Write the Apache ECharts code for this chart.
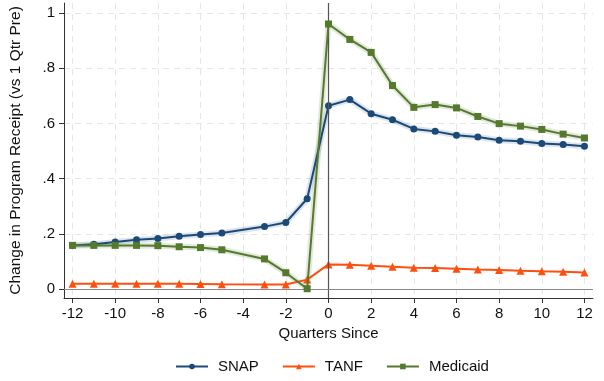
<!DOCTYPE html>
<html><head><meta charset="utf-8">
<script src="https://cdn.jsdelivr.net/npm/echarts@6/dist/echarts.min.js"></script>
<style>html,body{margin:0;padding:0;background:#fff}#c{width:604px;height:381px}</style>
</head><body><div id="c"></div>
<script>
const quarters = [-12,-11,-10,-9,-8,-7,-6,-5,-3,-2,-1,0,1,2,3,4,5,6,7,8,9,10,11,12];
const snap = [0.158,0.162,0.170,0.178,0.183,0.191,0.197,0.203,0.226,0.241,0.327,0.664,0.686,0.635,0.613,0.580,0.571,0.557,0.551,0.539,0.535,0.527,0.523,0.517];
const tanf = [0.019,0.019,0.019,0.019,0.019,0.019,0.018,0.017,0.016,0.016,0.034,0.089,0.088,0.084,0.081,0.077,0.076,0.0735,0.071,0.069,0.066,0.064,0.0627,0.060];
const medicaid = [0.158,0.158,0.158,0.158,0.157,0.153,0.150,0.142,0.109,0.059,0.001,0.960,0.904,0.857,0.737,0.658,0.668,0.656,0.625,0.599,0.590,0.578,0.561,0.547];
const xTicks = [-12,-10,-8,-6,-4,-2,0,2,4,6,8,10,12];
const yTicks = [0,0.2,0.4,0.6,0.8,1];
const seriesNames = ['SNAP','TANF','Medicaid'];

const colors = {SNAP:'#1b4a78', TANF:'#ff4f0f', Medicaid:'#55792d'};
const bandColors = {SNAP:'rgba(27,74,120,0.15)', Medicaid:'rgba(85,121,45,0.17)'};
const FONT = 'Liberation Sans, Arial, Helvetica, sans-serif';

function pairs(vals){ return quarters.map((q,i)=>[q, vals[i]]); }

const chart = echarts.init(document.getElementById('c'), null, {renderer:'canvas'});
const option = {
  animation:false,
  backgroundColor:'#fff',
  textStyle:{fontFamily:FONT},
  grid:{left:62, right:11, top:3, bottom:83, containLabel:false},
  xAxis:{
    type:'value', min:-12.4, max:12.4,
    name:'Quarters Since', nameLocation:'middle', nameGap:25,
    nameTextStyle:{fontSize:15, color:'#111', fontFamily:FONT},
    axisLine:{show:true, onZero:false, lineStyle:{color:'#333', width:1}},
    axisTick:{show:true, customValues:xTicks, length:5, lineStyle:{color:'#333'}},
    axisLabel:{customValues:xTicks, fontSize:15, color:'#111', margin:8, fontFamily:FONT},
    splitLine:{show:true, lineStyle:{color:'#e6e6e6', type:[6,5], width:1}}
  },
  yAxis:{
    type:'value', min:-0.0326, max:1.036,
    name:'Change in Program Receipt (vs 1 Qtr Pre)', nameLocation:'middle', nameGap:40,
    nameTextStyle:{fontSize:15.5, color:'#111', fontFamily:FONT},
    axisLine:{show:true, onZero:false, lineStyle:{color:'#333', width:1}},
    axisTick:{show:true, customValues:yTicks, length:5, lineStyle:{color:'#333'}},
    axisLabel:{customValues:yTicks, fontSize:15, color:'#111', margin:9, fontFamily:FONT,
      formatter:function(v){ if (Math.abs(v)<1e-9) return '0'; if (Math.abs(v-1)<1e-9) return '1'; return String(Math.round(v*10)/10).replace(/^0/,''); }},
    splitLine:{show:true, lineStyle:{color:'#e6e6e6', type:[6,5], width:1}}
  },
  legend:{
    data:seriesNames, bottom:2, left:170, itemWidth:32, itemHeight:7, itemGap:23,
    textStyle:{fontSize:15, color:'#111', fontFamily:FONT, padding:[0,0,0,5]}
  },
  series:[
    {name:'SNAP band', type:'line', data:pairs(snap), symbol:'none', silent:true, z:1,
      lineStyle:{color:bandColors.SNAP, width:6}},
    {name:'Medicaid band', type:'line', data:pairs(medicaid), symbol:'none', silent:true, z:1,
      lineStyle:{color:bandColors.Medicaid, width:6}},
    {name:'ref', type:'line', data:[], z:2, silent:true,
      markLine:{silent:true, symbol:'none', label:{show:false}, animation:false,
        data:[
          {xAxis:0, lineStyle:{color:'#555', width:1.2, type:'solid'}},
          {yAxis:0, lineStyle:{color:'#8a8a8a', width:1, type:'solid'}}
        ]}},
    {name:'SNAP', type:'line', data:pairs(snap), symbol:'circle', symbolSize:7, z:3,
      color:colors.SNAP, lineStyle:{color:colors.SNAP, width:2}, itemStyle:{color:colors.SNAP}},
    {name:'TANF', type:'line', data:pairs(tanf), symbol:'triangle', symbolSize:8, z:4,
      color:colors.TANF, lineStyle:{color:colors.TANF, width:2}, itemStyle:{color:colors.TANF}},
    {name:'Medicaid', type:'line', data:pairs(medicaid), symbol:'rect', symbolSize:7, z:5,
      color:colors.Medicaid, lineStyle:{color:colors.Medicaid, width:2}, itemStyle:{color:colors.Medicaid}}
  ]
};
chart.setOption(option);
</script></body></html>
